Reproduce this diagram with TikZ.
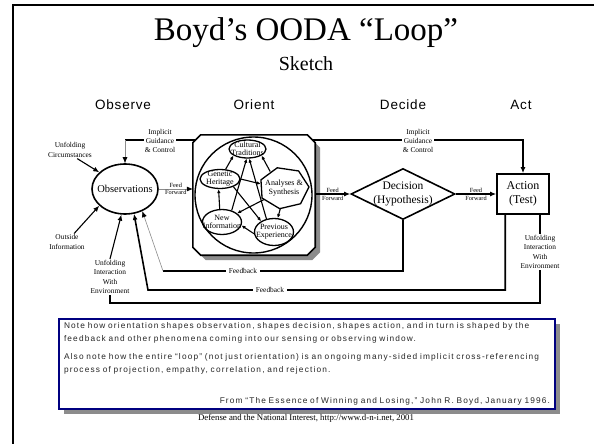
\documentclass[tikz,border=0pt]{standalone}
\usepackage{fontspec}
\setmainfont{Liberation Serif}
\setsansfont{Liberation Sans}
\newfontfamily\phasesans[LetterSpace=6]{Liberation Sans}
\newfontfamily\notesans[LetterSpace=14]{Liberation Sans}
\usetikzlibrary{shapes.geometric, arrows.meta, positioning, shadows, calc}
\definecolor{navy}{RGB}{0,0,128}

\begin{document}
\begin{tikzpicture}[
        x=1pt, y=-1pt,
        >={Latex[length=6pt,width=5pt]},
        % Style for the four phase headings
        phase/.style={font=\phasesans\fontsize{13.5}{15}\selectfont},
        % Style for the small side labels
        tag/.style={align=center, font=\fontsize{7.4}{9.5}\selectfont, inner sep=1pt},
        feed/.style={font=\fontsize{6.3}{7}\selectfont, inner sep=1pt},
        % Style for the ovals inside and outside orient
        oval/.style={ellipse, draw=black, line width=1.3pt, inner sep=0pt},
        inner/.style={align=center, font=\fontsize{8}{8}\selectfont},
        % Connector styles
        link/.style={line width=1.6pt},
        thinlink/.style={line width=1.1pt},
        faint/.style={draw=black!45, line width=0.6pt, -{Latex[length=6pt,width=5pt,color=black]}},
        inlink/.style={line width=1.1pt, -{Latex[length=4pt,width=3.5pt]}},
        shade/.style={drop shadow={shadow xshift=5pt, shadow yshift=-5pt, fill=black!45, opacity=1}},
        notebox/.style={draw=navy, line width=2pt, fill=white, text width=486pt, minimum height=82pt, align=left, inner xsep=5pt, text=black!85, font=\notesans\fontsize{8.3}{13}\selectfont, shade}
    ]

    \useasboundingbox (0,0) rectangle (594,444);
    \fill[white] (0,0) rectangle (594,444);
    \draw[line width=2pt] (13,444) -- (13,5) -- (594,5);

    % --- TITLE ---
    \node (title) at (306,33) {\fontsize{33}{36}\selectfont Boyd’s OODA “Loop”};
    \node (sketch) at (306,64) {\fontsize{20}{22}\selectfont Sketch};

    % --- PHASES ---
    \node (observe) [phase] at (123,105) {Observe};
    \node (orienthead) [phase] at (254,105) {Orient};
    \node (decide) [phase] at (403,105) {Decide};
    \node (acthead) [phase] at (521,105) {Act};

    % --- OBSERVE ---
    \node (obs) [oval, line width=1.6pt, minimum width=66, minimum height=50, label={[font=\fontsize{10.5}{12}\selectfont]center:Observations}] at (125,189) {};
    \node (circ) [tag] at (70,150) {Unfolding\\Circumstances};
    \node (outside) [tag] at (67,242) {Outside\\Information};
    \node (envleft) [tag] at (110,277) {Unfolding\\Interaction\\With\\Environment};

    % --- ORIENT ---
    \node (orient) [minimum width=122, minimum height=120, inner sep=0pt] at (254,195) {};
    \draw[line width=1.6pt, fill=white, shade]
        ($(orient.north west)+(8,0)$) -- ($(orient.north east)+(-8,0)$) -- ($(orient.north east)+(0,8)$)
        -- ($(orient.south east)+(0,-8)$) -- ($(orient.south east)+(-8,0)$) -- ($(orient.south west)+(8,0)$)
        -- ($(orient.south west)+(0,-8)$) -- ($(orient.north west)+(0,8)$) -- cycle;
    \node (ring) [ellipse, draw, line width=1.4pt, minimum width=117, minimum height=116] at (253.5,195) {};

    \node (cultural) [oval, minimum width=37, minimum height=18, label={[inner]center:Cultural\\Traditions}] at (247.5,149) {};
    \node (genetic) [oval, minimum width=40, minimum height=19, label={[inner]center:Genetic\\Heritage}] at (220,179) {};
    \node (analyses) [ellipse, minimum width=47, minimum height=40, inner sep=0pt, label={[inner, font=\fontsize{8}{9}\selectfont]center:Analyses \&\\Synthesis}] at (284,188) {};
    \draw[line width=1.3pt] ($(analyses)+(100:25 and 21)$)
        \foreach \i in {1,...,6} { -- ($(analyses)+(100+\i*360/7:25 and 21)$) } -- cycle;
    \node (newinfo) [oval, minimum width=39, minimum height=25, label={[inner]center:New\\Information}] at (222,222) {};
    \node (previous) [oval, minimum width=39, minimum height=27, label={[inner]center:Previous\\Experience}] at (274,232) {};

    \draw[inlink] (genetic.60) -- (cultural.205);
    \draw[inlink] (analyses.130) -- (cultural.-25);
    \draw[inlink] (genetic.east) -- (analyses.170);
    \draw[inlink] (newinfo.100) -- (genetic.262);
    \draw[inlink, {Latex[length=4pt,width=3.5pt]}-] (newinfo.-10) -- (previous.185);
    \draw[inlink] (analyses.-100) -- (previous.75);
    \draw[inlink] (newinfo.50) -- (cultural.-95);
    \draw[inlink] (previous.120) -- (cultural.-80);
    \draw[inlink] (genetic.-30) -- (previous.140);
    \draw[inlink] (analyses.210) -- (newinfo.30);

    % --- DECIDE AND ACT ---
    \node (decision) [diamond, draw, line width=1.6pt, aspect=2, minimum width=104, minimum height=51, inner sep=0pt, label={[align=center, font=\fontsize{11.5}{14}\selectfont]center:Decision\\(Hypothesis)}] at (403,194) {};
    \node (action) [rectangle, draw, line width=1.6pt, minimum width=52, minimum height=40, align=center, font=\fontsize{12}{14}\selectfont] at (523,194) {Action\\(Test)};
    \node (envright) [tag] at (540,252) {Unfolding\\Interaction\\With\\Environment};

    % --- FEED FORWARD ---
    \draw[faint] (obs.east) -- node[feed, above] {Feed} node[feed, below] {Forward} (obs.east -| orient.west);
    \draw[link, ->] (orient.east |- decision) -- node[feed, above] {Feed} node[feed, below] {Forward} (decision.west);
    \draw[link, ->] (decision.east) -- node[feed, above] {Feed} node[feed, below] {Forward} (action.west |- decision.east);

    % --- IMPLICIT GUIDANCE & CONTROL ---
    \coordinate (guideleft) at (125,140);
    \coordinate (guideright) at (action.north |- guideleft);
    \draw[link] ($(orient.west |- guideleft)+(3,0)$) -- (guideleft);
    \draw[faint] (guideleft) -- (obs.north);
    \draw[link, ->] ($(orient.east |- guideleft)+(-3,0)$) -- (guideright) -- (action.north);
    \node (guideL) [tag, fill=white, font=\fontsize{7.4}{9}\selectfont] at (160,141) {Implicit\\Guidance\\\& Control};
    \node (guideR) [tag, fill=white, font=\fontsize{7.4}{9}\selectfont] at (418,141) {Implicit\\Guidance\\\& Control};

    % --- OUTSIDE INPUTS ---
    \draw[thinlink, ->] (circ.-50) -- (obs.147);
    \draw[thinlink, ->] (outside.50) -- (obs.213);
    \draw[thinlink, ->] (envleft.north) -- (obs.262);

    % --- FEEDBACK ---
    \coordinate (fbone) at (163,271);
    \coordinate (fbtwo) at (148,290);
    \coordinate (loopcorner) at (540,303);
    \draw[link] (decision.south) |- (fbone);
    \draw[faint] (fbone) -- (obs.308);
    \draw[link, ->] ([xshift=9pt]action.south west) |- (fbtwo) -- (obs.290);
    \node (fbonelabel) [tag, fill=white, inner xsep=3pt] at (243,271) {Feedback};
    \node (fbtwolabel) [tag, fill=white, inner xsep=3pt] at (270,290) {Feedback};
    \draw[link] (action.south -| envright) -- (envright.north);
    \draw[link] (envright.south) -- (loopcorner) -| (envleft.south);

    % --- NOTE ---
    \node (note) [notebox] at (307,364) {Note how orientation shapes observation, shapes decision, shapes action, and in turn is shaped by the\\
    feedback and other phenomena coming into our sensing or observing window.\\[5pt]
    Also note how the entire “loop” (not just orientation) is an ongoing many-sided implicit cross-referencing\\
    process of projection, empathy, correlation, and rejection.\\[5pt]
    \null\hfill From “The Essence of Winning and Losing,” John R. Boyd, January 1996.};

    \node (footer) at (306,418) {\fontsize{8.8}{10}\selectfont Defense and the National Interest, http://www.d-n-i.net, 2001};

\end{tikzpicture}
\end{document}
